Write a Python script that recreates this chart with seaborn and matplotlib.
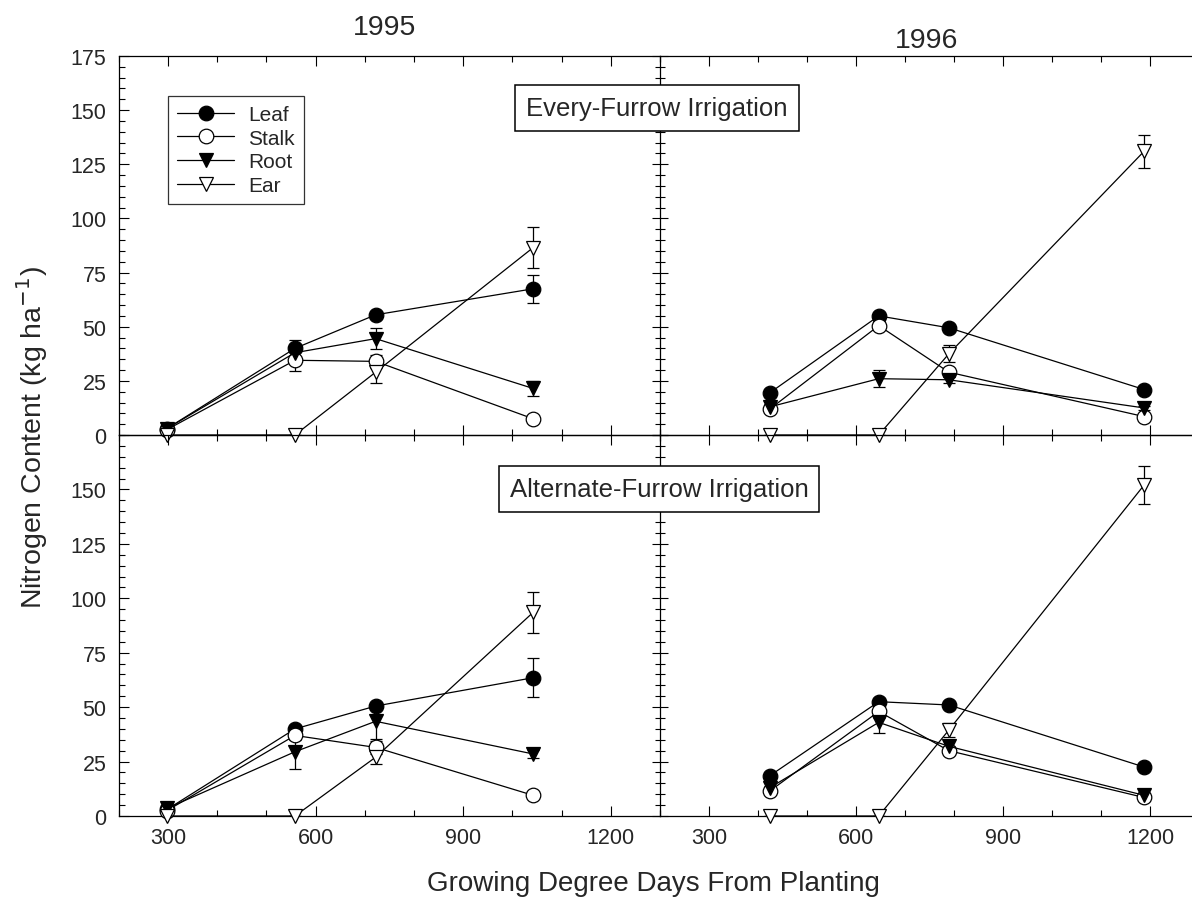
import numpy as np
import pandas as pd
import matplotlib
matplotlib.use("Agg")
import matplotlib.pyplot as plt
from matplotlib.ticker import MultipleLocator, FixedLocator
from matplotlib.lines import Line2D
import seaborn as sns

sns.set_theme(style="white")
plt.rcParams['font.family'] = ['Liberation Sans', 'DejaVu Sans']

# ---------------- data ----------------
organs = ["Leaf", "Stalk", "Root", "Ear"]
gdd_1995 = [298, 558, 722, 1042]
gdd_1996 = [424, 646, 789, 1187]

# Every-furrow irrigation
ef95_leaf = [3, 40, 55.5, 67.5]
ef95_stalk = [2.5, 34.5, 34, 7.5]
ef95_root = [3, 38, 44.5, 21.5]
ef95_ear = [0, 0, 29, 86.5]
ef95_leaf_se = [0.5, 4, 1.5, 6.5]
ef95_stalk_se = [0.5, 5, 3, 1]
ef95_root_se = [0.5, 3, 5, 3.5]
ef95_ear_se = [0, 0, 5, 9.5]

ef96_leaf = [19.5, 55, 49.5, 21]
ef96_stalk = [12, 50.5, 29, 8.5]
ef96_root = [13, 26, 25.5, 12.5]
ef96_ear = [0, 0, 37.5, 131]
ef96_leaf_se = [1, 1.5, 1.5, 1]
ef96_stalk_se = [1, 2, 2, 1]
ef96_root_se = [1.5, 4, 1.5, 1]
ef96_ear_se = [0, 0, 4, 7.5]

# Alternate-furrow irrigation
af95_leaf = [3, 40, 50.5, 63.5]
af95_stalk = [2.5, 37, 31.5, 9.5]
af95_root = [3.5, 29.5, 43.5, 28.5]
af95_ear = [0, 0, 27, 93.5]
af95_leaf_se = [0.5, 1.5, 1.5, 9]
af95_stalk_se = [0.5, 2, 3, 1]
af95_root_se = [0.5, 8, 8, 2]
af95_ear_se = [0, 0, 3, 9.5]

af96_leaf = [18.5, 52.5, 51, 22.5]
af96_stalk = [11.5, 48, 30, 8.5]
af96_root = [13, 43, 32, 9.5]
af96_ear = [0, 0, 39.5, 152]
af96_leaf_se = [1, 1.5, 1.5, 1]
af96_stalk_se = [1, 3, 2, 1]
af96_root_se = [1, 5, 3, 1]
af96_ear_se = [0, 0, 3, 8.7]

year_labels = ["1995", "1996"]
treatment_labels = ["Every-Furrow Irrigation", "Alternate-Furrow Irrigation"]
x_ticks = [300, 600, 900, 1200]

panels = {
    (0, 0): (gdd_1995, [ef95_leaf, ef95_stalk, ef95_root, ef95_ear],
             [ef95_leaf_se, ef95_stalk_se, ef95_root_se, ef95_ear_se]),
    (0, 1): (gdd_1996, [ef96_leaf, ef96_stalk, ef96_root, ef96_ear],
             [ef96_leaf_se, ef96_stalk_se, ef96_root_se, ef96_ear_se]),
    (1, 0): (gdd_1995, [af95_leaf, af95_stalk, af95_root, af95_ear],
             [af95_leaf_se, af95_stalk_se, af95_root_se, af95_ear_se]),
    (1, 1): (gdd_1996, [af96_leaf, af96_stalk, af96_root, af96_ear],
             [af96_leaf_se, af96_stalk_se, af96_root_se, af96_ear_se]),
}

# ---------------- styles ----------------
styles = {
    "Leaf": dict(marker="o", mfc="black", ms=10.5),
    "Stalk": dict(marker="o", mfc="white", ms=10.5),
    "Root": dict(marker="v", mfc="black", ms=10.5),
    "Ear": dict(marker="v", mfc="white", ms=10.5),
}

W, H = 1192, 903
fig = plt.figure(figsize=(W / 100, H / 100), dpi=100)

def frac_rect(x0, y_top, x1, y_bot):
    return [x0 / W, 1 - y_bot / H, (x1 - x0) / W, (y_bot - y_top) / H]

rects = {
    (0, 0): frac_rect(118.8, 57, 660, 436),
    (0, 1): frac_rect(660, 57, 1199.5, 436),
    (1, 0): frac_rect(118.8, 436, 660, 817),
    (1, 1): frac_rect(660, 436, 1199.5, 817),
}

axes = {}
for key, rect in rects.items():
    r, c = key
    ax = fig.add_axes(rect)
    axes[key] = ax
    gdd, series, errs = panels[key]
    rows = []
    for name, vals in zip(organs, series):
        for g, v in zip(gdd, vals):
            rows.append(dict(gdd=g, N=v, organ=name))
    df = pd.DataFrame(rows)
    for name, err in zip(organs, errs):
        sub = df[df.organ == name]
        st = styles[name]
        ax.errorbar(sub.gdd, sub.N, yerr=err, fmt="none", ecolor="black",
                    elinewidth=0.9, capsize=4, capthick=0.9, zorder=2)
        sns.lineplot(data=sub, x="gdd", y="N", ax=ax, color="black",
                     linewidth=0.9, marker=st["marker"], markersize=st["ms"],
                     markerfacecolor=st["mfc"], markeredgecolor="black",
                     markeredgewidth=0.9, legend=False, zorder=3,
                     clip_on=False)
    ax.set_xlim(200, 1300)
    ax.set_ylim(0, 175)
    ax.set_xlabel("")
    ax.set_ylabel("")
    ax.set_facecolor("none")
    for s in ax.spines.values():
        s.set_color("black")
        s.set_linewidth(0.9)
    ax.xaxis.set_major_locator(FixedLocator(x_ticks))
    ax.xaxis.set_minor_locator(MultipleLocator(100))
    ax.yaxis.set_major_locator(MultipleLocator(25))
    ax.yaxis.set_minor_locator(MultipleLocator(5))
    ydir = "in" if c == 0 else "inout"
    ax.tick_params(axis="both", which="both", top=True, bottom=True,
                   color="black", width=0.8)
    ax.tick_params(axis="x", which="major", direction="in", length=7,
                   labelsize=15.5, pad=8)
    ax.tick_params(axis="x", which="minor", direction="in", length=4)
    ax.tick_params(axis="y", which="major", direction=ydir,
                   length=7 if c == 0 else 12, labelsize=15.5, pad=9,
                   left=True, right=False)
    ax.tick_params(axis="y", which="minor", direction=ydir,
                   length=4 if c == 0 else 7, left=True, right=False)
    ax.spines["right"].set_visible(False)
    if c == 1:
        ax.set_yticklabels([])
    elif r == 1:
        ax.set_yticks([0, 25, 50, 75, 100, 125, 150])
    if r == 0:
        ax.set_xticklabels([])
    else:
        ax.set_xticklabels([str(t) for t in x_ticks])

# year titles
fig.text(385 / W, 1 - 28 / H, year_labels[0], ha="center", va="center",
         fontsize=20.5)
fig.text(927 / W, 1 - 41 / H, year_labels[1], ha="center", va="center",
         fontsize=20.5)

# treatment boxes
fig.text(657 / W, 1 - 109 / H, treatment_labels[0], ha="center", va="center",
         fontsize=18.5, bbox=dict(boxstyle="square,pad=0.42", fc="white",
                                   ec="black", lw=1.1), zorder=10)
fig.text(659 / W, 1 - 490 / H, treatment_labels[1], ha="center", va="center",
         fontsize=18.5, bbox=dict(boxstyle="square,pad=0.42", fc="white",
                                   ec="black", lw=1.1), zorder=10)

# legend
handles = [Line2D([0], [0], color="black", lw=0.9, marker=styles[n]["marker"],
                  markersize=styles[n]["ms"], markerfacecolor=styles[n]["mfc"],
                  markeredgecolor="black", markeredgewidth=0.9)
           for n in organs]
leg = axes[(0, 0)].legend(handles, organs, loc="upper left",
                          bbox_to_anchor=(0.091, 0.895), borderaxespad=0,
                          frameon=True, fancybox=False, edgecolor="black",
                          fontsize=15, handlelength=2.7, labelspacing=0.22,
                          borderpad=0.45, handletextpad=0.7, numpoints=1)
leg.get_frame().set_linewidth(0.9)

fig.text(32 / W, 1 - 438 / H, "Nitrogen Content (kg ha$^{-1}$)", rotation=90,
         ha="center", va="center", fontsize=20.5)
fig.text(653 / W, 1 - 884 / H, "Growing Degree Days From Planting",
         ha="center", va="center", fontsize=20)

fig.savefig("out.png", dpi=100, facecolor="white")
